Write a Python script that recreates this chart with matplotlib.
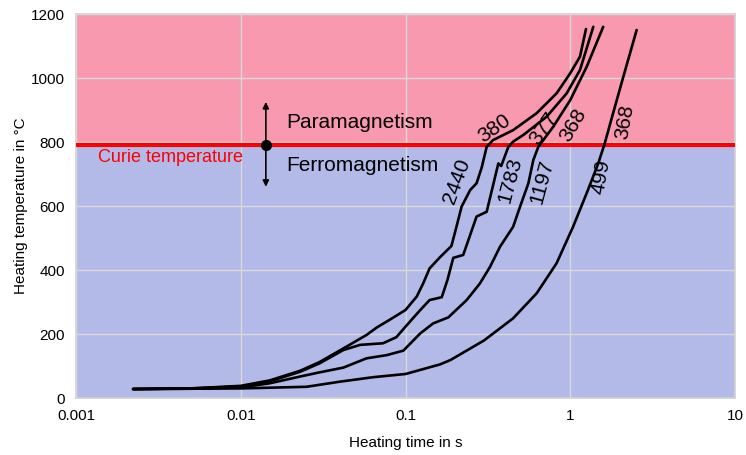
import matplotlib
matplotlib.use("Agg")
import matplotlib.pyplot as plt
from matplotlib import font_manager

# curve data: heating time (s) vs temperature (degC)
time_a = [0.00222, 0.005, 0.01, 0.015, 0.0229, 0.03, 0.042, 0.058, 0.0668, 0.0805, 0.1,
          0.117, 0.128, 0.14, 0.162, 0.19, 0.205, 0.219, 0.247, 0.27, 0.29, 0.311, 0.34,
          0.45, 0.625, 0.826, 1.0, 1.146, 1.246]
temp_a = [28, 30, 38, 55, 85, 112, 155, 197, 220, 245, 275,
          317, 358, 405, 440, 475, 540, 598, 650, 671, 720, 785, 806,
          837, 890, 952, 1015, 1067, 1153]

time_b = [0.00222, 0.005, 0.01, 0.015, 0.0229, 0.03, 0.042, 0.053, 0.073, 0.088, 0.1,
          0.123, 0.14, 0.166, 0.18, 0.195, 0.224, 0.27, 0.311, 0.366, 0.381, 0.421,
          0.45, 0.519, 0.719, 0.951, 1.146, 1.38]
temp_b = [28, 30, 36, 52, 82, 108, 150, 166, 171, 190, 223,
          275, 306, 315, 370, 438, 447, 567, 582, 733, 725, 785,
          801, 822, 879, 952, 1025, 1160]

time_c = [0.00222, 0.005, 0.01, 0.015, 0.0229, 0.03, 0.042, 0.058, 0.077, 0.097, 0.123,
          0.147, 0.182, 0.235, 0.283, 0.326, 0.375, 0.45, 0.496, 0.557, 0.597, 0.64,
          0.789, 1.0, 1.258, 1.585]
temp_c = [28, 29, 33, 46, 67, 80, 95, 124, 134, 148, 202,
          233, 252, 306, 358, 410, 473, 535, 598, 671, 744, 785,
          848, 931, 1035, 1160]

time_d = [0.00222, 0.01, 0.025, 0.04, 0.0636, 0.1, 0.162, 0.188, 0.3, 0.45, 0.625,
          0.826, 1.04, 1.258, 1.479, 1.62, 1.82, 2.1, 2.53]
temp_d = [28, 30, 35, 51, 65, 75, 105, 119, 180, 249, 327,
          421, 535, 640, 733, 796, 890, 1004, 1150]

curie_temp = 790

# rate labels: (text, time, temp, angle)
labels_below = [("2440", 0.205, 676, 70), ("1783", 0.431, 681, 75),
                ("1197", 0.671, 676, 75), ("499", 1.55, 692, 80)]
labels_above = [("380", 0.349, 843, 35), ("377", 0.686, 843, 55),
                ("368", 1.04, 853, 60), ("368", 2.15, 863, 80)]

names = {f.name for f in font_manager.fontManager.ttflist}
main_font = "Liberation Sans" if "Liberation Sans" in names else "DejaVu Sans"
tick_font = "Liberation Sans Narrow" if "Liberation Sans Narrow" in names else main_font
plt.rcParams["font.family"] = [main_font, "DejaVu Sans"]

fig = plt.figure(figsize=(7.46, 4.55), dpi=100)
ax = fig.add_axes([76 / 746, 1 - 398 / 455, 659 / 746, 384 / 455])

ax.set_xscale("log")
ax.set_xlim(0.001, 10)
ax.set_ylim(0, 1200)

ax.axhspan(0, curie_temp, color="#B3BAE8", zorder=0)
ax.axhspan(curie_temp, 1200, color="#F899B0", zorder=0)
ax.grid(True, which="major", color="#D9D9D9", linewidth=1, zorder=1)
ax.set_axisbelow(False)
ax.axhline(curie_temp, color="#FF0000", linewidth=3, zorder=3)

for t, v in [(time_a, temp_a), (time_b, temp_b), (time_c, temp_c), (time_d, temp_d)]:
    ax.plot(t, v, color="black", linewidth=1.9, zorder=4,
            solid_capstyle="round", solid_joinstyle="round")

for txt, t, v, ang in labels_below + labels_above:
    ax.text(t, v, txt, rotation=ang, ha="center", va="center", fontsize=15,
            rotation_mode="anchor", zorder=5)

# Curie marker with double arrow
ax.annotate("", xy=(0.0142, 925), xytext=(0.0142, 660),
            arrowprops=dict(arrowstyle="<|-|>", color="black", lw=1.2,
                            mutation_scale=9, shrinkA=0, shrinkB=0), zorder=5)
ax.plot([0.0142], [curie_temp], "o", color="black", markersize=7, zorder=6)
ax.text(0.019, 860, "Paramagnetism", fontsize=15, va="center", ha="left", zorder=5)
ax.text(0.019, 728, "Ferromagnetism", fontsize=15, va="center", ha="left", zorder=5)
ax.text(0.00136, 750, "Curie temperature", color="#FF0000", fontsize=13,
        va="center", ha="left", zorder=5)

ax.set_xticks([0.001, 0.01, 0.1, 1, 10])
ax.set_xticklabels(["0.001", "0.01", "0.1", "1", "10"])
ax.set_yticks(range(0, 1201, 200))
ax.minorticks_off()
ax.tick_params(length=0, pad=8, labelsize=11)
for lab in ax.get_xticklabels() + ax.get_yticklabels():
    lab.set_fontfamily([tick_font, "DejaVu Sans"])

for side in ["left", "bottom", "top", "right"]:
    ax.spines[side].set_color("#D0D0D0")
    ax.spines[side].set_linewidth(1.2)

ax.set_xlabel("Heating time in s", fontsize=11, family=[tick_font, "DejaVu Sans"], labelpad=9)
ax.set_ylabel("Heating temperature in °C", fontsize=11, family=[tick_font, "DejaVu Sans"],
              labelpad=2)

fig.savefig("out.png", dpi=100)
